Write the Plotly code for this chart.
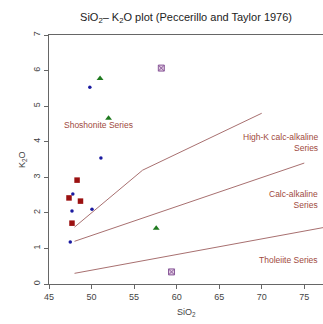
import plotly.graph_objects as go

# Sample data
blue_x = [49.8, 51.1, 47.8, 47.7, 50.05, 47.5]
blue_y = [5.53, 3.54, 2.53, 2.05, 2.10, 1.18]
red_x = [48.3, 47.35, 48.7, 47.7]
red_y = [2.92, 2.42, 2.33, 1.71]
green_x = [51.0, 52.0, 57.6]
green_y = [5.78, 4.66, 1.57]
purple_x = [58.2, 59.4]
purple_y = [6.07, 0.34]

# Boundary lines (Peccerillo & Taylor 1976)
sho_x = [48, 56, 70]
sho_y = [1.6, 3.2, 4.8]
hk_x = [48, 75]
hk_y = [1.2, 3.4]
th_x = [48, 78]
th_y = [0.3, 1.62]

line_col = "#A87070"
text_col = "#A04A40"
font = "Liberation Sans, Arial, sans-serif"

fig = go.Figure()
for xs, ys in [(sho_x, sho_y), (hk_x, hk_y), (th_x, th_y)]:
    fig.add_trace(go.Scatter(x=xs, y=ys, mode="lines", line=dict(color=line_col, width=1),
                             hoverinfo="skip", showlegend=False))

fig.add_trace(go.Scatter(x=blue_x, y=blue_y, mode="markers",
                         marker=dict(symbol="circle", size=3.5, color="#1a1aa0"), showlegend=False))
fig.add_trace(go.Scatter(x=red_x, y=red_y, mode="markers",
                         marker=dict(symbol="square", size=5.5, color="#9b1111"), showlegend=False))
fig.add_trace(go.Scatter(x=green_x, y=green_y, mode="markers",
                         marker=dict(symbol="triangle-up", size=6, color="#1f7a1f"), showlegend=False))
fig.add_trace(go.Scatter(x=purple_x, y=purple_y, mode="markers",
                         marker=dict(symbol="square-x", size=6, color="#e2cce2",
                                     line=dict(color="#8a5a9a", width=1)), showlegend=False))

labels = [
    (50.8, 4.47, "Shoshonite Series", "center"),
    (76.9, 3.98, "High-K calc-alkaline<br>Series", "right"),
    (76.9, 2.38, "Calc-alkaline<br>Series", "right"),
    (76.9, 0.67, "Tholeiite Series", "right"),
]
for x, y, t, anc in labels:
    fig.add_annotation(x=x, y=y, text=t, showarrow=False, xanchor=anc, align=anc,
                       font=dict(family=font, size=8.5, color=text_col))

fig.add_annotation(xref="paper", yref="paper", x=0.5, y=-0.145, text="SiO<sub>2</sub>",
                   showarrow=False, font=dict(family=font, size=9, color="#444"))
fig.add_annotation(xref="paper", yref="paper", x=-0.124, y=0.5, text="K<sub>2</sub>O",
                   showarrow=False, textangle=-90, font=dict(family=font, size=9, color="#444"))

fig.update_layout(
    width=323, height=324,
    margin=dict(l=49, r=0, t=35, b=40),
    paper_bgcolor="white", plot_bgcolor="white",
    title=dict(text="SiO<sub>2</sub>– K<sub>2</sub>O plot (Peccerillo and Taylor 1976)",
               x=0.576, xanchor="center", y=0.948, yanchor="middle",
               font=dict(family=font, size=11, color="#222")),
    xaxis=dict(range=[45, 77.2], tickvals=[45, 50, 55, 60, 65, 70, 75], showgrid=False,
               zeroline=False, showline=True, linecolor="#666", linewidth=1, mirror=True,
               ticks="outside", ticklen=4, tickcolor="#666",
               tickfont=dict(family=font, size=9, color="#444")),
    yaxis=dict(range=[0, 7], tickvals=[0, 1, 2, 3, 4, 5, 6, 7], showgrid=False,
               zeroline=False, showline=True, linecolor="#666", linewidth=1,
               ticks="outside", ticklen=4, tickcolor="#666", tickangle=-90,
               tickfont=dict(family=font, size=9, color="#444")),
)

fig.write_html("out.html", config={"displayModeBar": False},
               post_script="document.body.style.margin='0';document.body.style.overflow='hidden';")
